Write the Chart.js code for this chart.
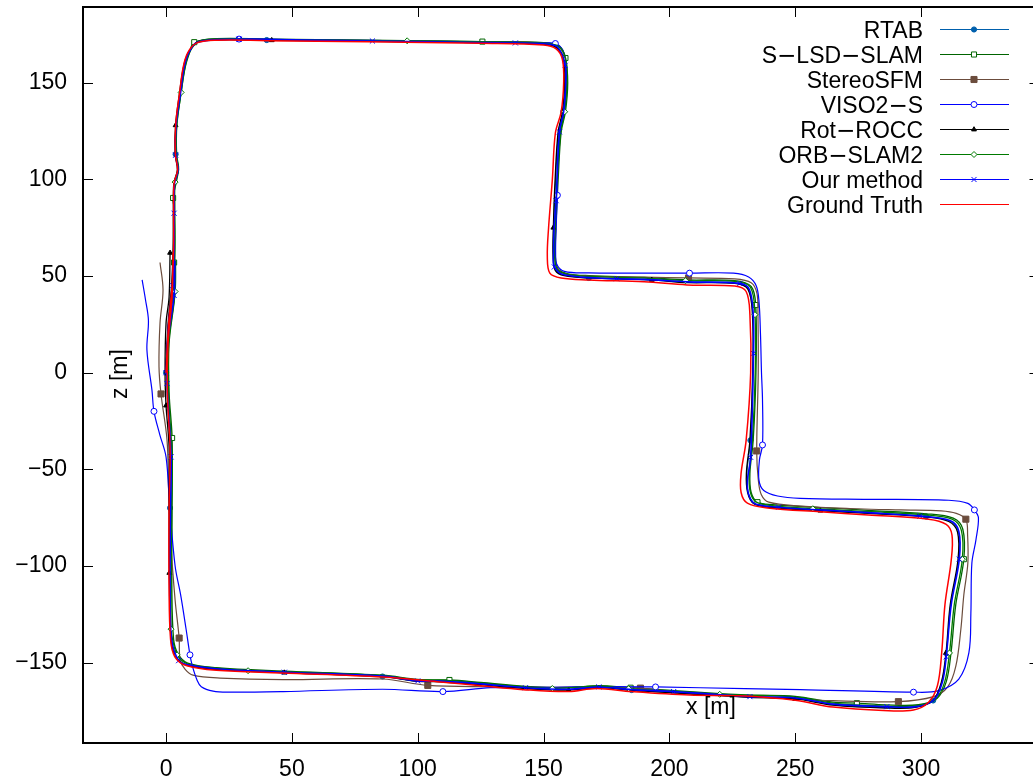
<!DOCTYPE html>
<html>
<head>
<meta charset="utf-8">
<script src="https://cdn.jsdelivr.net/npm/chart.js@4.4.1/dist/chart.umd.min.js"></script>
<style>
  html, body { margin: 0; padding: 0; background: #fff; }
  canvas { display: block; }
</style>
</head>
<body>
<canvas id="traj" width="1033" height="783"></canvas>
<script>
// axis ticks and limits
const xTicks = [0, 50, 100, 150, 200, 250, 300];
const zTicks = [-150, -100, -50, 0, 50, 100, 150];
const xMin = -33, xMax = 342.5;
const zMin = -191.6, zMax = 189.2;

// RTAB
const rtabX = [0,1,2.5,3.1,3.1,3.3,4.7,3.8,3.9,5.7,7.1,8.9,12.4,20,40,80,125,150,155.3,158.1,158.6,157.8,156,154.8,154,153.9,154.9,158.4,168,190,207,226,231.4,233.2,233.3,232.2,230.8,231.3,233.8,241,260,279,302,311.3,314.8,315,311.8,310.1,308.3,304.8,297.8,286,265,250,232,208,185,172,160,142.8,125,109,100,86,47,20,8.1,3.9,2.1,1.5,1.6,1.8,0.5,0.5,3,3.3];
const rtabZ = [0,25,45,65,85,98,105,113,128,145,158,165.5,170.8,172.3,172.1,171.4,170.8,170,168.3,162.4,150,135,124.6,100,75,60,53,50.4,49,48.1,46.8,46.3,43.3,30,0,-35,-52,-62,-67.6,-69.6,-71.2,-72.6,-74.4,-76.7,-82,-96.5,-120,-145,-160,-169.6,-173,-173.2,-171.7,-168.5,-167.8,-166,-164.2,-162.8,-164,-163.2,-161.2,-159.7,-159.6,-157.2,-155.2,-153.4,-151.2,-146.7,-138,-110,-70,-43.6,-10,15,42,58];
const rtabMarks = [0,7,14,21,28,35,42,49,56,63,70];

// S-LSD-SLAM
const slsdX = [0,1.2,3,3.5,3.2,2.8,4.9,4,4.2,6,7.6,9.4,11.2,20,40,80,125.7,150,156.3,158.7,159.6,158.7,157,155.8,154.9,154.7,155.7,159.3,168,190,207,226,232.5,234.3,234.4,233.3,232,232.5,235,241,260,279,302,312.8,316.6,317,313.8,311.9,310,306.3,299,286,274.5,265,250,232,208,184.6,172,160,142.8,125,112.6,100,86,47,20,8.6,4.8,3,2.3,2.4,2.4,1.2,1.2,3.6,3.2];
const slsdZ = [0,25,45,65,85,90.4,105,113,128,145,158,165.8,171,172.8,172.6,172,171.3,170.8,169,162.8,150,135,124.6,100,75,60,53.8,51.3,50.2,49.3,48,47.6,44.6,35,0,-35,-52,-62,-67,-68.3,-69.8,-71.2,-73,-75.3,-81,-96.5,-120,-145,-160,-168.6,-171.8,-171.9,-171,-170.5,-167.5,-166.8,-165,-163,-161.9,-163,-162.3,-160.3,-159,-158.7,-156.5,-154.4,-152.6,-150.3,-145.6,-138,-110,-70,-33.8,-10,15,42,57];
const slsdMarks = [5,12,16,19,33,38,45,52,57,62,72,76];

// StereoSFM
const sfmX = [0,1,2.6,3.2,3.2,3.4,4.8,3.9,4,5.8,7.2,9,12.5,20,40,80,125,150,155.5,158.5,159,158.3,156.6,155.4,154.8,154.6,155.4,158.5,168,190,207.6,226,232.5,234.8,235.2,235.3,234.7,235.3,236.5,239.5,252,275,292,308,314,317.8,318.5,318.6,317,315.8,313.8,310.6,305,291,265,239,210,188.5,171,150,130,104,86,46.5,21.5,10.7,7.6,5.6,5.2,3.6,2,1,0.4,-2,-2.8,-2.4,-1.2,-2.4];
const sfmZ = [0,25,45,65,85,98,105,113,128,145,158,165.5,171.2,172.4,172.2,171.8,171.2,170.6,169,163,150,135,124.6,100,75,60,54,51.2,50,49.4,49,48.5,46.5,41,30,0,-40.5,-55,-63,-67,-69,-70.4,-71,-71.5,-72.8,-75.8,-84,-98.5,-115,-133,-152,-162.6,-167.6,-170.2,-169.7,-168,-166.3,-163.2,-162.6,-162.8,-162.5,-161.8,-158.5,-158.8,-158,-156.5,-153.5,-148.7,-137.3,-117.6,-90,-60,-35,-11,3,25.7,42.8,57];
const sfmMarks = [30,36,45,53,57,61,68,73];

// VISO2-S
const visoX = [0,1,2.6,3.2,3.2,3.4,4.8,3.9,4,5.8,7.2,9,12.5,20,29,60,100,135,150,154.7,157.6,158.9,158.9,158.2,156.6,155.6,155.5,155,154.8,155.3,158.3,168,186,208,225.5,231.5,234.5,235.6,236.2,236.6,237,237,235.8,235.6,237.5,243,252,278.8,311,318.6,321.2,322.8,321.8,320.2,319.8,319,315,307,297,252,230,194.5,172.6,150,129,110,86,46.5,25,18.7,14,12.3,10.5,9.5,8,5.8,3.6,1.5,0,-2.5,-4.8,-5.6,-7.6,-7,-8.2,-9.5];
const visoZ = [0,25,45,65,85,98,105,113,128,145,158,165.5,171.2,172.6,172.6,172.2,171.6,171,170.6,170.3,167,160,150,135,125,105,91.8,75,62,56,52.4,51.6,51.5,51.5,51.5,49.5,45,37,20,0,-14,-37.4,-45,-55.6,-61,-63.8,-65,-65.5,-66,-67.6,-71,-75,-86.6,-98.5,-124.5,-145,-158.5,-164.5,-165.3,-164,-163.5,-162.6,-162.4,-162.8,-163,-165,-163.8,-165,-165.3,-164.8,-162.5,-159,-152,-146,-133,-115,-100,-70,-43.6,-32,-20,-9,11.7,27,38,48];
const visoMarks = [14,19,26,33,41,50,58,61,65,73,80];

// Rot-ROCC
const roccX = [0,0.8,2.2,2.8,2.9,3.1,4.5,3.6,3.8,5.4,6.9,8.8,12.3,20,42,80,125,150,155,157.9,158.4,157.5,155.8,154.6,153.9,153.8,154.7,158.2,168,193,207,226,231.2,233,233.1,232,230.6,231.1,233.6,241,260,279,302,311,314.5,314.7,311.6,309.9,308.1,304.6,297.6,286,265,250,232,208,185,172,160,142.8,125,109,100,86,47,20,8,3.8,2,1.3,1.2,1.2,0,-0.4,0,1.2,1.6];
const roccZ = [0,25,45,65,85,98,105,113,128,145,158,165.5,171,172.2,172,171.5,170.8,170,168.3,162.3,150,135,124.6,100,75,60,52.8,50.2,49,48,46.6,46.2,43.2,30,0,-35,-52,-62,-67.8,-69.8,-71.4,-72.8,-74.6,-77,-82.5,-96.5,-120,-145,-160,-169.8,-173.2,-173.5,-172,-168.8,-168,-166.2,-164.3,-163,-164.2,-163.4,-161.4,-159.9,-159.7,-157.3,-155.2,-153.5,-151.3,-146.8,-138,-103.6,-70,-38.5,-17,0,25.6,39,62];
const roccMarks = [8,14,24,29,40,47,53,58,64,69,72,76];

// ORB-SLAM2
const orbX = [0,1.2,2.9,3.5,3.5,3.6,5,4.2,4.3,6,7.5,9.3,12.8,20,40,95.8,125,150,156,158.8,159.3,158.4,156.8,155.5,154.6,154.4,155.4,159,168,190,206.4,226,232.2,234,234.1,233,231.7,232.2,234.6,241,257,279,302,312.3,316,316.4,313.2,311.3,309.4,305.8,298.6,286,265,250,220,208,183.8,172,153.5,142.8,125,109,100,86,47,32.6,20,8.4,4.4,2.6,2,2,2.2,2.4,1,1,3.6,3.8];
const orbZ = [0,25,45,65,85,98.6,105,113,128,145,158,165.7,171.3,172.7,172.5,171.7,171.3,170.5,168.8,162.6,150,135,124.6,100,75,60,53.4,51,49.8,48.9,47.6,47.2,44.2,30,0,-35,-52,-62,-67,-68.8,-70.4,-71.8,-73.6,-75.8,-81.5,-96.5,-120,-145,-160,-169,-172.3,-172.5,-171,-167.8,-166.4,-165.4,-163.5,-162.2,-163.4,-162.6,-160.6,-159.1,-159,-156.7,-154.7,-154.2,-152.9,-150.6,-146,-138,-132.7,-110,-70,-43.6,-10,15,42,58];
const orbMarks = [5,9,15,21,30,33,40,45,47,54,56,58,65,68,70,76];

// Our method
const oursX = [0,1,2.6,3.2,3.2,3.4,4.8,3.8,4,5.8,7.2,9,12.5,29,50,82,138.8,150,155.5,158.6,158.8,158,156.3,155,154.2,154,154.3,158.5,179,190,207,228,231.8,233.3,233.4,232.3,231,231.5,234,243.4,260,279,299.5,311.5,315,315.2,312,310,308.5,305,298,286.4,265,250,232,201.7,185,172,160,142.8,125,109,100,86,47,20,8.2,5,2.2,1.6,1.8,2,0.4,0.6,3.2,3.5];
const oursZ = [0,25,45,65,82.5,98,105,112.5,128,145,158,165.5,171,172.5,172.2,171.6,170.6,170.2,168.5,159,150,135,124.6,89,75,62,54.7,50.5,48.6,48.3,47,46.2,43,30,10,-43.8,-56,-63,-67.8,-69.6,-71,-72.4,-74.2,-76.5,-82,-96.5,-120,-147,-160,-169.5,-172.8,-172.8,-171.5,-168.3,-167.6,-165,-164,-162.6,-163.8,-163,-161,-159.6,-159.5,-157,-155,-153.2,-151,-149,-138,-110,-70,-43.6,-5.6,15,40,58];
const oursMarks = [0,2,4,7,13,15,16,19,22,23,26,28,31,34,35,39,42,45,47,51,54,55,57,59,62,64,67,71,72,74];

// Ground Truth
const gtX = [0,1,2.4,3,3,3.2,4.6,3.7,3.8,5.4,6.8,8.6,12,20,40,80,125,150,155,157.5,158,157,154.7,153.5,152,151.5,152.5,157,168,190,207,226,230.5,232,232.3,230.5,228.5,228.5,231,239,260,279,303,310,312.3,312,309.5,308.2,306.5,303,297,285,265,250,228,208,185,171,160,142,125,109,86,46,20,8,3.5,1.8,1.2,1.2,1.6,0.5,0.8,2.4,2.8];
const gtZ = [0,25,45,65,85,98,105,113,128,145,158,165.5,170.5,172,171.8,171.2,170.4,169.5,167.5,162,150,135,124,100,75,60,51.5,49,48,47,45.4,44.8,42,30,0,-35,-52,-62,-67.5,-70,-72,-73.6,-75.8,-78.5,-84,-97,-120,-145,-162,-170.5,-174.5,-174.8,-173,-169.5,-167.2,-166.8,-165,-163.4,-165,-164,-162,-160,-157.5,-155.4,-154,-151.5,-147,-138,-110,-70,-40,-10,15,40,62];

const FONT = '"Liberation Sans", Arial, Helvetica, sans-serif';
const MINUS = '\u2212';
Chart.defaults.font.family = FONT;
Chart.defaults.font.size = 23;
Chart.defaults.color = '#000';

const series = [
  { label: 'RTAB',        xs: rtabX, zs: rtabZ, marks: rtabMarks, color: '#0060ad', style: 'circle',   filled: true,  r: 2.6, lw: 1.2 },
  { label: 'S' + MINUS + 'LSD' + MINUS + 'SLAM', xs: slsdX, zs: slsdZ, marks: slsdMarks, color: '#006400', style: 'rect', filled: false, r: 3.6, lw: 1.3 },
  { label: 'StereoSFM',   xs: sfmX,  zs: sfmZ,  marks: sfmMarks,  color: '#6b4c3c', style: 'rect',     filled: true,  r: 4.3, lw: 1.2 },
  { label: 'VISO2' + MINUS + 'S', xs: visoX, zs: visoZ, marks: visoMarks, color: '#0000ff', style: 'circle', filled: false, r: 3, lw: 1.2 },
  { label: 'Rot' + MINUS + 'ROCC', xs: roccX, zs: roccZ, marks: roccMarks, color: '#000000', style: 'triangle', filled: true, r: 2.8, lw: 1.3 },
  { label: 'ORB' + MINUS + 'SLAM2', xs: orbX, zs: orbZ, marks: orbMarks, color: '#007a00', style: 'rectRot', filled: false, r: 3, lw: 1.3 },
  { label: 'Our method',  xs: oursX, zs: oursZ, marks: oursMarks, color: '#0000ff', style: 'crossRot', filled: false, r: 3.6, lw: 1.6 },
  { label: 'Ground Truth', xs: gtX,  zs: gtZ,   marks: [],        color: '#ff0000', style: null,       filled: false, r: 0,   lw: 1.5 }
];

const datasets = series.map((s, i) => ({
  label: s.label,
  data: s.xs.map((x, k) => ({ x: x, y: s.zs[k] })),
  showLine: true,
  borderColor: s.color,
  borderWidth: s.lw,
  tension: 0.35,
  pointStyle: s.style || 'circle',
  pointRadius: ctx => (s.marks.includes(ctx.dataIndex) ? s.r : 0),
  pointBorderColor: s.color,
  pointBackgroundColor: s.filled ? s.color : '#ffffff',
  pointBorderWidth: 1,
  order: series.length - i
}));

// text with the wide minus sign gnuplot shows (taken from DejaVu Sans)
function fillMixed(ctx, text, rightX, baseY, size) {
  const base = size + 'px ' + FONT;
  const dash = size + 'px "DejaVu Sans"';
  const parts = text.split(MINUS);
  let w = 0;
  parts.forEach((p, i) => {
    ctx.font = base; w += ctx.measureText(p).width;
    if (i < parts.length - 1) { ctx.font = dash; w += ctx.measureText(MINUS).width; }
  });
  let x = rightX - w;
  ctx.textAlign = 'left';
  ctx.textBaseline = 'alphabetic';
  parts.forEach((p, i) => {
    ctx.font = base; ctx.fillText(p, x, baseY); x += ctx.measureText(p).width;
    if (i < parts.length - 1) { ctx.font = dash; ctx.fillText(MINUS, x, baseY); x += ctx.measureText(MINUS).width; }
  });
}

// gnuplot-like frame with inward ticks and axis labels
const framePlugin = {
  id: 'frame',
  afterDraw(chart) {
    const { ctx, chartArea: a, scales } = chart;
    const xs = scales.x, ys = scales.y;
    const edge = chart.width;
    ctx.save();
    ctx.strokeStyle = '#000';
    ctx.lineWidth = 1;
    xTicks.forEach(v => {
      const px = Math.round(xs.getPixelForValue(v)) + 0.5;
      ctx.beginPath();
      ctx.moveTo(px, a.bottom); ctx.lineTo(px, a.bottom - 10);
      ctx.moveTo(px, a.top); ctx.lineTo(px, a.top + 10);
      ctx.stroke();
    });
    zTicks.forEach(v => {
      const py = Math.round(ys.getPixelForValue(v)) + 0.5;
      ctx.beginPath();
      ctx.moveTo(a.left, py); ctx.lineTo(a.left + 10, py);
      ctx.moveTo(edge - 3.5, py); ctx.lineTo(edge + 6, py);
      ctx.stroke();
    });
    ctx.lineWidth = 2;
    ctx.beginPath();
    ctx.moveTo(edge + 5, a.top);
    ctx.lineTo(a.left, a.top);
    ctx.lineTo(a.left, a.bottom);
    ctx.lineTo(edge + 5, a.bottom);
    ctx.stroke();

    ctx.fillStyle = '#000';
    ctx.font = '23px ' + FONT;
    ctx.textAlign = 'center';
    ctx.textBaseline = 'middle';
    ctx.fillText('x [m]', 711, 708);
    ctx.translate(121, 374);
    ctx.rotate(-Math.PI / 2);
    ctx.fillText('z [m]', 0, 0);
    ctx.restore();
  }
};

// legend in the gnuplot layout: text on the left, sample on the right
const keyPlugin = {
  id: 'gpKey',
  afterDraw(chart) {
    const ctx = chart.ctx;
    ctx.save();
    series.forEach((s, i) => {
      const y = 29 + i * 25;
      ctx.fillStyle = '#000';
      fillMixed(ctx, s.label, 923, y + 8.5, 23);
      ctx.strokeStyle = s.color;
      ctx.lineWidth = 1.2;
      ctx.beginPath();
      ctx.moveTo(940, y + 0.5); ctx.lineTo(1009, y + 0.5);
      ctx.stroke();
      if (s.style) {
        ctx.fillStyle = s.filled ? s.color : '#ffffff';
        ctx.lineWidth = 1;
        Chart.helpers.drawPoint(ctx, { pointStyle: s.style, radius: s.r, rotation: 0, borderWidth: 1 }, 974, y + 0.5);
      }
    });
    ctx.restore();
  }
};

const fmt = v => String(v).replace('-', MINUS);

new Chart(document.getElementById('traj'), {
  type: 'scatter',
  data: { datasets: datasets },
  options: {
    responsive: false,
    animation: false,
    devicePixelRatio: 1,
    layout: { padding: { top: 7, right: 0, left: 0, bottom: 0 } },
    plugins: { legend: { display: false }, tooltip: { enabled: false } },
    scales: {
      x: {
        type: 'linear', min: xMin, max: xMax,
        grid: { display: false, drawTicks: false },
        border: { display: false },
        afterBuildTicks: s => { s.ticks = xTicks.map(v => ({ value: v })); },
        afterFit: s => { s.height = 40; s.paddingLeft = 0; s.paddingRight = 0; },
        ticks: { padding: 13, autoSkip: false, maxRotation: 0, callback: v => fmt(v) }
      },
      y: {
        type: 'linear', min: zMin, max: zMax,
        grid: { display: false, drawTicks: false },
        border: { display: false },
        afterBuildTicks: s => { s.ticks = zTicks.map(v => ({ value: v })); },
        afterFit: s => { s.width = 83; s.paddingTop = 0; s.paddingBottom = 0; },
        ticks: { padding: 16, autoSkip: false, callback: v => fmt(v) }
      }
    }
  },
  plugins: [framePlugin, keyPlugin]
});
</script>
</body>
</html>
